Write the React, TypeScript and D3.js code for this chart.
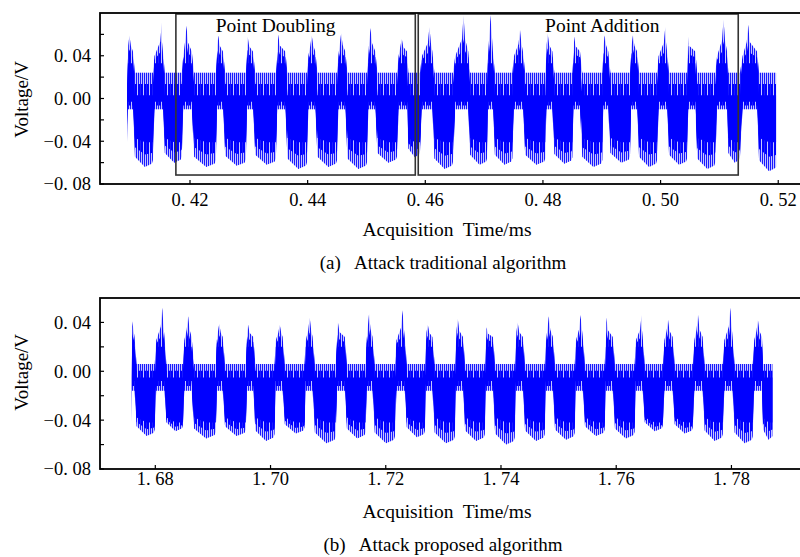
import React from 'react';
import * as d3 from 'd3';

// (a) traditional algorithm: one burst per cycle, times in ms, voltages in V
const topBurstStart = [0.4093, 0.4137, 0.4186, 0.4244, 0.4295, 0.4346, 0.4399, 0.4450, 0.4501, 0.4552, 0.4591,
  0.4647, 0.4705, 0.4748, 0.4804, 0.4850, 0.4901, 0.4948, 0.4994, 0.5045, 0.5093, 0.5135];
const topBurstPeakAt = [0.4097, 0.4152, 0.4194, 0.4248, 0.4298, 0.4350, 0.4407, 0.4457, 0.4507, 0.4560, 0.4607,
  0.4665, 0.4711, 0.4761, 0.4808, 0.4853, 0.4905, 0.4953, 0.5008, 0.5047, 0.5107, 0.5149];
const topBurstEnd = [0.4103, 0.4154, 0.4203, 0.4256, 0.4307, 0.4362, 0.4413, 0.4464, 0.4515, 0.4569, 0.4612,
  0.4673, 0.4715, 0.4766, 0.4816, 0.4863, 0.4911, 0.4960, 0.5011, 0.5059, 0.5113, 0.5164];
const topBurstPeak = [0.059, 0.071, 0.068, 0.059, 0.058, 0.060, 0.059, 0.061, 0.066, 0.056, 0.067,
  0.078, 0.078, 0.064, 0.061, 0.058, 0.059, 0.059, 0.067, 0.058, 0.074, 0.069];
const topGapLow = [-0.064, -0.060, -0.064, -0.063, -0.062, -0.066, -0.064, -0.066, -0.060, -0.055, -0.066,
  -0.062, -0.062, -0.062, -0.061, -0.064, -0.060, -0.064, -0.062, -0.066, -0.060, -0.068];
const topTraceEnd = 0.5198;

// (b) proposed algorithm
const botBurstStart = [1.6759, 1.6799, 1.6848, 1.6905, 1.6957, 1.7007, 1.7059, 1.7113, 1.7165, 1.7216, 1.7268,
  1.7320, 1.7372, 1.7424, 1.7476, 1.7528, 1.7580, 1.7632, 1.7681, 1.7733, 1.7785, 1.7837];
const botBurstPeakAt = [1.6760, 1.6812, 1.6857, 1.6911, 1.6961, 1.7016, 1.7068, 1.7117, 1.7171, 1.7229, 1.7273,
  1.7325, 1.7375, 1.7429, 1.7483, 1.7538, 1.7583, 1.7644, 1.7690, 1.7742, 1.7798, 1.7846];
const botBurstEnd = [1.6764, 1.6816, 1.6863, 1.6917, 1.6970, 1.7021, 1.7073, 1.7129, 1.7177, 1.7233, 1.7281,
  1.7334, 1.7386, 1.7438, 1.7490, 1.7542, 1.7594, 1.7646, 1.7698, 1.7750, 1.7802, 1.7853];
const botBurstPeak = [0.041, 0.052, 0.045, 0.039, 0.038, 0.038, 0.044, 0.040, 0.047, 0.050, 0.038,
  0.043, 0.036, 0.040, 0.045, 0.046, 0.044, 0.046, 0.042, 0.046, 0.052, 0.042];
const botGapLow = [-0.053, -0.049, -0.055, -0.053, -0.057, -0.051, -0.059, -0.055, -0.059, -0.054, -0.059,
  -0.057, -0.060, -0.057, -0.056, -0.053, -0.055, -0.049, -0.051, -0.057, -0.059, -0.056];
const botTraceEnd = 1.7872;

// band levels between/inside bursts
const topLevels = { gapHi: 0.024, gapCoreHi: 0.003, gapCoreLo: -0.041, burstHi: 0.044, burstLo: -0.010, burstCoreHi: 0.033, burstCoreLo: -0.003 };
const botLevels = { gapHi: 0.006, gapCoreHi: -0.005, gapCoreLo: -0.042, burstHi: 0.028, burstLo: -0.016, burstCoreHi: 0.020, burstCoreLo: -0.008 };

const topXTicks = [0.42, 0.44, 0.46, 0.48, 0.50, 0.52];
const botXTicks = [1.68, 1.70, 1.72, 1.74, 1.76, 1.78];
const yTicks = [-0.08, -0.04, 0.0, 0.04];
const yMinor = [-0.06, -0.02, 0.02, 0.06];

const boxLabels = ['Point Doubling', 'Point Addition'];
const boxStart = [0.4176, 0.4588];
const boxEnd = [0.4583, 0.5132];
const boxLabelShift = [-20, 24];

type Row = { t: number; hi: number; lo: number; cHi: number; cLo: number };

function envelope(s: number[], p: number[], e: number[], pk: number[], gl: number[], end: number, L: any): Row[] {
  const rows: Row[] = [];
  s.forEach((t0, i) => {
    const prevLow = i === 0 ? L.burstLo : gl[i - 1];
    const next = i + 1 < s.length ? s[i + 1] : end;
    const w = e[i] - t0;
    const shoulder = L.burstHi + (pk[i] - L.burstHi) * 0.35;
    const burst = { lo: L.burstLo, cHi: L.burstCoreHi, cLo: L.burstCoreLo };
    rows.push({ t: t0, hi: L.gapHi, lo: prevLow * 0.9, cHi: L.gapCoreHi, cLo: L.gapCoreLo });
    rows.push({ t: t0 + w * 0.15, hi: L.burstHi * 0.9, ...burst });
    rows.push({ t: Math.max(t0 + w * 0.2, p[i] - 0.00025), hi: shoulder, ...burst });
    rows.push({ t: p[i], hi: pk[i], ...burst });
    rows.push({ t: Math.min(e[i] - w * 0.1, p[i] + 0.00025), hi: shoulder, ...burst });
    rows.push({ t: e[i], hi: L.burstHi, ...burst });
    const g = next - e[i];
    rows.push({ t: e[i] + g * 0.1, hi: L.gapHi, lo: gl[i] * 0.85, cHi: L.gapCoreHi, cLo: L.gapCoreLo * 0.9 });
    rows.push({ t: e[i] + g * 0.6, hi: L.gapHi, lo: gl[i], cHi: L.gapCoreHi, cLo: L.gapCoreLo });
    rows.push({ t: next - g * 0.05, hi: L.gapHi, lo: gl[i] * 0.95, cHi: L.gapCoreHi, cLo: L.gapCoreLo });
  });
  return rows.sort((a, b) => a.t - b.t);
}

const fmt = (v: number) => d3.format('.2f')(v).replace('.', '. ').replace('-', '\u2212');

const FONT = '"Liberation Serif", "Times New Roman", serif';

function Panel(props: {
  top: number; bottom: number; xDomain: [number, number]; yDomain: [number, number];
  rows: Row[]; xTicks: number[]; labelY: number; caption: string; captionY: number; tickY: number; boxes?: boolean;
}) {
  const { top, bottom, rows } = props;
  const x = d3.scaleLinear().domain(props.xDomain).range([100, 800]);
  const y = d3.scaleLinear().domain(props.yDomain).range([bottom, top]);
  const outer = d3.area<Row>().x(d => x(d.t)).y0(d => y(d.lo)).y1(d => y(d.hi))(rows) || '';
  const mid = d3.area<Row>().x(d => x(d.t))
    .y0(d => y((d.lo + d.cLo) / 2)).y1(d => y((d.hi + d.cHi) / 2))(rows) || '';
  const core = d3.area<Row>().x(d => x(d.t)).y0(d => y(d.cLo)).y1(d => y(d.cHi))(rows) || '';
  return (
    <g>
      <path d={outer} fill="#c4c4ff" />
      <path d={outer} fill="url(#spikes)" />
      <path d={mid} fill="url(#dense)" />
      <path d={core} fill="#0000ff" />
      {props.boxes && boxLabels.map((lab, i) => (
        <g key={lab}>
          <rect x={x(boxStart[i])} y={top + 1} width={x(boxEnd[i]) - x(boxStart[i])} height={y(-0.0716) - top - 1}
            fill="none" stroke="#333" strokeWidth={1.6} />
          <text x={(x(boxStart[i]) + x(boxEnd[i])) / 2 + boxLabelShift[i]} y={top + 19} textAnchor="middle"
            fontFamily={FONT} fontSize={19.5}>{lab}</text>
        </g>
      ))}
      <rect x={100} y={top} width={702} height={bottom - top} fill="none" stroke="#000" strokeWidth={1.8} />
      {yTicks.map(v => (
        <g key={v}>
          <line x1={100} x2={104} y1={y(v)} y2={y(v)} stroke="#000" strokeWidth={1.2} />
          <text x={91} y={y(v)} dy="0.35em" textAnchor="end" fontFamily={FONT} fontSize={18.5}>{fmt(v)}</text>
        </g>
      ))}
      {yMinor.filter(v => y(v) > top + 2).map(v => (
        <line key={v} x1={100} x2={104} y1={y(v)} y2={y(v)} stroke="#000" strokeWidth={1.2} />
      ))}
      {props.xTicks.map(v => (
        <g key={v}>
          <line x1={x(v)} x2={x(v)} y1={bottom} y2={bottom - 4} stroke="#000" strokeWidth={1.2} />
          <text x={x(v)} y={props.tickY} textAnchor="middle" fontFamily={FONT} fontSize={18.5}>{fmt(v)}</text>
        </g>
      ))}
      <text transform={`translate(21,${y(0) + 1}) rotate(-90)`} textAnchor="middle" dy="0.35em"
        fontFamily={FONT} fontSize={19}>Voltage/V</text>
      <text x={447} y={props.labelY} textAnchor="middle" fontFamily={FONT} fontSize={19.5}
        style={{ whiteSpace: 'pre' }}>{'Acquisition  Time/ms'}</text>
      <text x={443} y={props.captionY} textAnchor="middle" fontFamily={FONT} fontSize={19}
        style={{ whiteSpace: 'pre' }}>{props.caption}</text>
    </g>
  );
}

export default function App() {
  const topRows = envelope(topBurstStart, topBurstPeakAt, topBurstEnd, topBurstPeak, topGapLow, topTraceEnd, topLevels);
  const botRows = envelope(botBurstStart, botBurstPeakAt, botBurstEnd, botBurstPeak, botGapLow, botTraceEnd, botLevels);
  return (
    <svg width={800} height={557} style={{ position: 'absolute', left: 0, top: 0, background: '#fff' }}>
      <defs>
        <pattern id="spikes" width={2} height={4} patternUnits="userSpaceOnUse">
          <rect width={1} height={4} fill="#1a1aff" />
        </pattern>
        <pattern id="dense" width={3} height={4} patternUnits="userSpaceOnUse">
          <rect width={2} height={4} fill="#0000ff" />
        </pattern>
      </defs>
      <rect width={800} height={557} fill="#fff" />
      <Panel top={13} bottom={184} xDomain={[0.4047, 0.5237]} yDomain={[-0.08, 0.08]} rows={topRows}
        xTicks={topXTicks} tickY={206} labelY={236} caption={'(a)   Attack traditional algorithm'} captionY={269} boxes />
      <Panel top={298} bottom={469} xDomain={[1.6704, 1.7919]} yDomain={[-0.08, 0.06]} rows={botRows}
        xTicks={botXTicks} tickY={485} labelY={518} caption={'(b)   Attack proposed algorithm'} captionY={551} />
    </svg>
  );
}
